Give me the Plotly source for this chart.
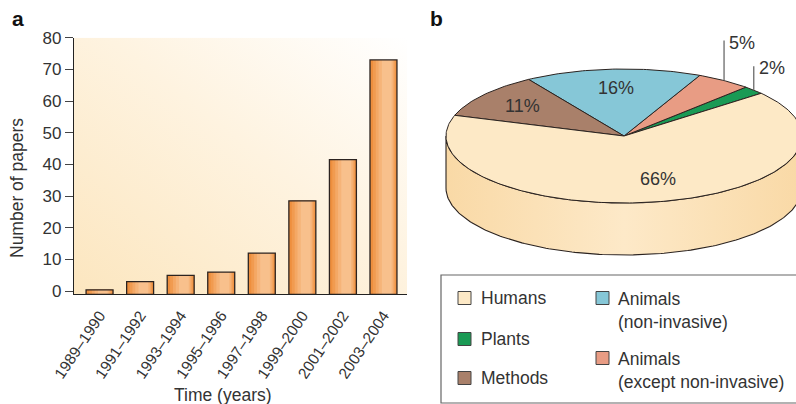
import numpy as np
import urllib.parse
import plotly.graph_objects as go

# ---------------- data ----------------
periods = ["1989–1990", "1991–1992", "1993–1994", "1995–1996",
           "1997–1998", "1999–2000", "2001–2002", "2003–2004"]
papers = [0.4, 3.0, 5.0, 6.0, 12.0, 28.5, 41.5, 73.0]
y_ticks = [0, 10, 20, 30, 40, 50, 60, 70, 80]

# pie slices in counter-clockwise order starting at the Plants/Humans edge
slice_names = ["Plants", "Animals (except non-invasive)", "Animals (non-invasive)",
               "Methods", "Humans"]
slice_pct = [2, 5, 16, 11, 66]
slice_colors = ["#1a9a55", "#e89c84", "#86c7d7", "#a9806a", "#fde9c6"]

legend_left = [("Humans", "#fde9c6"), ("Plants", "#1a9a55"), ("Methods", "#a9806a")]
legend_right = [("Animals<br>(non-invasive)", "#86c7d7"),
                ("Animals<br>(except non-invasive)", "#e89c84")]

W, H = 796, 404
FONT = "Liberation Sans, Arial, Helvetica, sans-serif"
TXT = "#333333"

fig = go.Figure()

# ---------------- panel a : bars ----------------
bar_layers = [(0.665, "#ee8f3e"), (0.56, "#f19b50"), (0.46, "#f4a865"),
              (0.36, "#f6b479"), (0.24, "#f8c08c")]
for i, (w, c) in enumerate(bar_layers):
    fig.add_trace(go.Bar(
        x=list(range(len(periods))), y=[v + 1 for v in papers], base=-1,
        width=w, marker=dict(color=c, line=dict(width=0)),
        offset=(-w / 2 + 0.02 * i) if i else None,
        xaxis="x", yaxis="y", showlegend=False, hoverinfo="skip"))
# outline
fig.add_trace(go.Bar(
    x=list(range(len(periods))), y=[v + 1 for v in papers], base=-1, width=0.665,
    marker=dict(color="rgba(0,0,0,0)", line=dict(width=1.3, color="#2b2320")),
    xaxis="x", yaxis="y", showlegend=False,
    customdata=papers, hovertemplate="%{customdata}<extra></extra>"))

px0, px1 = 74, 407
py0, py1 = 37.7, 294.3
fig.update_layout(
    barmode="overlay",
    xaxis=dict(domain=[px0 / W, px1 / W], range=[-0.63, 7.58], automargin=False,
               tickmode="array", tickvals=list(range(len(periods))), ticktext=periods,
               tickangle=-56, ticks="", showgrid=False, zeroline=False,
               showline=True, linecolor="#222", linewidth=1.2, ticklabelstandoff=5,
               tickfont=dict(size=15.5, color=TXT, family=FONT), anchor="y"),
    yaxis=dict(domain=[1 - py1 / H, 1 - py0 / H], range=[-1, 80], automargin=False,
               tickmode="array", tickvals=y_ticks, ticks="outside", ticklen=8,
               tickcolor="#444", showgrid=False, zeroline=False,
               showline=True, linecolor="#222", linewidth=1.2,
               tickfont=dict(size=17, color=TXT, family=FONT), anchor="x"),
)

# background gradient for plot area a
svg = ("<svg xmlns='http://www.w3.org/2000/svg' width='100' height='100' preserveAspectRatio='none'>"
       "<defs><linearGradient id='g' x1='0' y1='1' x2='1' y2='0'>"
       "<stop offset='0' stop-color='#fce6bf'/><stop offset='0.55' stop-color='#fef3e0'/>"
       "<stop offset='1' stop-color='#ffffff'/></linearGradient></defs>"
       "<rect width='100' height='100' fill='url(#g)'/></svg>")
src = "data:image/svg+xml;charset=utf-8," + urllib.parse.quote(svg)
fig.add_layout_image(dict(source=src, xref="paper", yref="paper",
                          x=px0 / W, y=1 - py0 / H, sizex=(px1 - px0) / W,
                          sizey=(py1 - py0) / H, sizing="stretch",
                          xanchor="left", yanchor="top", layer="below"))

# ---------------- panel b : 3D pie ----------------
cx_px, cy_px = 624, 136
rx, ry, depth = 178, 67, 52
ax0, ax1 = 422, 796
ay0, ay1 = 14, 262
fig.update_layout(
    xaxis2=dict(domain=[ax0 / W, ax1 / W], range=[ax0 - cx_px, ax1 - cx_px],
                visible=False, anchor="y2", fixedrange=True, automargin=False),
    yaxis2=dict(domain=[1 - ay1 / H, 1 - ay0 / H], range=[cy_px - ay1, cy_px - ay0],
                visible=False, anchor="x2", fixedrange=True, automargin=False),
)

def ell(t_deg, dy=0.0):
    t = np.radians(t_deg)
    return rx * np.cos(t), ry * np.sin(t) + dy

start = 39.6
# side (front) of pie
t_front = np.linspace(180, 360, 181)
xs_top, ys_top = ell(t_front)
xs_bot, ys_bot = ell(t_front[::-1], -depth)
fig.add_trace(go.Scatter(
    x=np.concatenate([xs_top, xs_bot, xs_top[:1]]),
    y=np.concatenate([ys_top, ys_bot, ys_top[:1]]),
    mode="lines", fill="toself",
    fillgradient=dict(type="horizontal",
                      colorscale=[[0, "#f9d9a6"], [0.5, "#fde9c8"], [1, "#f9d9a6"]]),
    line=dict(color="#2b2320", width=1.1),
    xaxis="x2", yaxis="y2", showlegend=False, hoverinfo="skip"))

# top slices
angle = start
mids = []
for name, pct, col in zip(slice_names, slice_pct, slice_colors):
    span = pct * 3.6
    ts = np.linspace(angle, angle + span, max(int(span) + 2, 4))
    ex, ey = ell(ts)
    fig.add_trace(go.Scatter(
        x=np.concatenate([[0], ex, [0]]), y=np.concatenate([[0], ey, [0]]),
        mode="lines", fill="toself", fillcolor=col,
        line=dict(color="#2b2320", width=1.0),
        xaxis="x2", yaxis="y2", showlegend=False, name=name,
        hovertemplate=name + ": " + str(pct) + "%<extra></extra>"))
    mids.append(angle + span / 2)
    angle += span

# labels
LBL = 18
for name, pct, mid in zip(slice_names, slice_pct, mids):
    if pct >= 10:
        f = 0.72 if pct < 50 else 0.66
        lx, ly = ell(mid)
        lx, ly = lx * f, ly * f
        if pct >= 50:
            lx += 12
        fig.add_annotation(x=lx, y=ly, xref="x2", yref="y2", text=f"{pct}%",
                           xanchor="center", yanchor="middle",
                           showarrow=False, font=dict(size=LBL, color=TXT, family=FONT))
    else:
        ex, ey = ell(mid)
        top = ey + (40 if pct == 5 else 24)
        fig.add_shape(type="line", x0=ex, y0=ey, x1=ex, y1=top, xref="x2", yref="y2",
                      line=dict(color="#6a6a6a", width=1.3))
        fig.add_annotation(x=ex + 3, y=top - 2, xref="x2", yref="y2", text=f"{pct}%",
                           showarrow=False, xanchor="left", yanchor="middle",
                           font=dict(size=LBL, color=TXT, family=FONT))

# ---------------- legend box ----------------
fig.add_shape(type="rect", xref="paper", yref="paper",
              x0=441 / W, x1=800 / W, y0=1 - 403 / H, y1=1 - 275 / H,
              line=dict(color="#666", width=1.2), fillcolor="white", layer="below")

def legend_item(x_sq, y_c, col):
    fig.add_shape(type="rect", xref="paper", yref="paper",
                  x0=x_sq / W, x1=(x_sq + 13) / W,
                  y0=1 - (y_c + 6.5) / H, y1=1 - (y_c - 6.5) / H,
                  line=dict(color="#444", width=1), fillcolor=col)

LEG = 17.5
for (label, col), yc in zip(legend_left, [298, 339, 378]):
    legend_item(458, yc, col)
    fig.add_annotation(x=479 / W, y=1 - yc / H, xref="paper", yref="paper",
                       text=label, showarrow=False, xanchor="left", yanchor="middle",
                       font=dict(size=LEG, color=TXT, family=FONT))
for (label, col), yc in zip(legend_right, [298, 358]):
    legend_item(596, yc, col)
    fig.add_annotation(x=616 / W, y=1 - (yc - 11) / H, xref="paper", yref="paper",
                       text=label, showarrow=False, xanchor="left", yanchor="top",
                       align="left", font=dict(size=LEG, color=TXT, family=FONT))

# ---------------- titles ----------------
fig.add_annotation(x=10 / W, y=1 - 18 / H, xref="paper", yref="paper", text="<b>a</b>",
                   showarrow=False, xanchor="left", yanchor="middle",
                   font=dict(size=21, color="#111", family=FONT))
fig.add_annotation(x=428 / W, y=1 - 18 / H, xref="paper", yref="paper", text="<b>b</b>",
                   showarrow=False, xanchor="left", yanchor="middle",
                   font=dict(size=21, color="#111", family=FONT))
fig.add_annotation(x=17 / W, y=1 - 188 / H, xref="paper", yref="paper",
                   text="Number of papers", textangle=-90, showarrow=False,
                   xanchor="center", yanchor="middle",
                   font=dict(size=17.5, color=TXT, family=FONT))
fig.add_annotation(x=223 / W, y=1 - 395 / H, xref="paper", yref="paper",
                   text="Time (years)", showarrow=False,
                   xanchor="center", yanchor="middle",
                   font=dict(size=17.5, color=TXT, family=FONT))

fig.update_layout(width=W, height=H, margin=dict(l=0, r=0, t=0, b=0, autoexpand=False),
                  paper_bgcolor="white", plot_bgcolor="rgba(0,0,0,0)",
                  showlegend=False, font=dict(family=FONT, color=TXT))

fig.write_html("out.html", config={"displayModeBar": False},
               post_script="document.body.style.margin='0';document.body.style.overflow='hidden';")
